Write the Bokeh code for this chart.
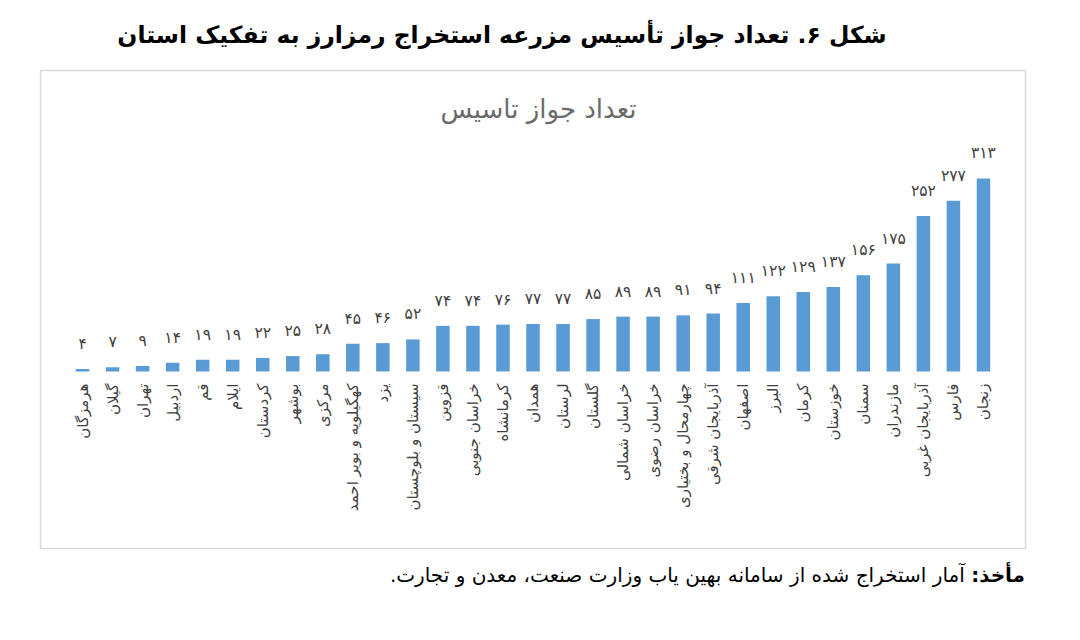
from math import pi

from bokeh.core.properties import value
from bokeh.embed import file_html
from bokeh.layouts import column
from bokeh.models import ColumnDataSource, Div, FactorRange, Label
from bokeh.plotting import figure
from bokeh.resources import INLINE

# number of permits per province (left to right)
provinces = [
    "هرمزگان", "گیلان", "تهران", "اردبیل", "قم", "ایلام", "کردستان", "بوشهر",
    "مرکزی", "کهگیلویه و بویر احمد", "یزد", "سیستان و بلوچستان", "قزوین",
    "خراسان جنوبی", "کرمانشاه", "همدان", "لرستان", "گلستان", "خراسان شمالی",
    "خراسان رضوی", "چهارمحال و بختیاری", "آذربایجان شرقی", "اصفهان", "البرز",
    "کرمان", "خوزستان", "سمنان", "مازندران", "آذربایجان غربی", "فارس", "زنجان",
]
permits = [4, 7, 9, 14, 19, 19, 22, 25, 28, 45, 46, 52, 74, 74, 76, 77, 77,
           85, 89, 89, 91, 94, 111, 122, 129, 137, 156, 175, 252, 277, 313]

figure_title = "شکل ۶. تعداد جواز تأسیس مزرعه استخراج رمزارز به تفکیک استان"
chart_title = "تعداد جواز تاسیس"
source_head = "مأخذ:"
source_text = "آمار استخراج شده از سامانه بهین یاب وزارت صنعت، معدن و تجارت."

FONT = "DejaVu Sans"
BAR_COLOR = "#5b9bd5"
TEXT_COLOR = "#404040"

persian_digits = str.maketrans("0123456789", "۰۱۲۳۴۵۶۷۸۹")
value_labels = [str(v).translate(persian_digits) for v in permits]

source = ColumnDataSource(data=dict(province=provinces, permits=permits,
                                    label=value_labels))

x_range = FactorRange(factors=provinces, range_padding=0.9,
                      range_padding_units="absolute")

header = Div(text="<b>%s</b>" % figure_title, width=1004, height=50,
             margin=(10, 0, 0, 0),
             styles={"direction": "rtl", "text-align": "center",
                     "font-family": FONT, "font-size": "23.5px",
                     "line-height": "50px", "color": "black"})

p = figure(x_range=x_range, y_range=(-287, 488), width=1064, height=493,
           output_backend="svg", toolbar_location=None,
           x_axis_location=None, y_axis_location=None,
           min_border_left=40, min_border_right=39,
           min_border_top=10, min_border_bottom=5)
p.grid.visible = False
p.outline_line_color = "#d9d9d9"
p.outline_line_width = 1.5
p.background_fill_color = "white"
p.border_fill_color = "white"

p.vbar(x="province", top="permits", bottom=0, width=0.45, source=source,
       fill_color=BAR_COLOR, line_color=None)

# value labels above the bars
p.text(x="province", y="permits", text="label", source=source,
       text_align="center", text_baseline="middle", y_offset=-25,
       text_font=value(FONT), text_font_size="15.5px", text_color=TEXT_COLOR)

# province names, written downwards under the bars
p.text(x="province", y=0, text="province", source=source, angle=pi / 2,
       text_align="right", text_baseline="middle", y_offset=12,
       text_font=value(FONT), text_font_size="15px", text_color=TEXT_COLOR)

p.add_layout(Label(x=498, y=440, x_units="screen", y_units="screen",
                   text=chart_title, text_align="center", text_baseline="middle",
                   text_font=FONT, text_font_size="26px", text_color="#6b6b6b"))

footer = Div(text="<b>%s</b> %s" % (source_head, source_text), width=1025,
             margin=(8, 0, 0, 0),
             styles={"direction": "rtl", "text-align": "right",
                     "font-family": FONT, "font-size": "20px", "color": "black"})

layout = column(header, p, footer)

open("out.html", "w").write(file_html(layout, INLINE))
